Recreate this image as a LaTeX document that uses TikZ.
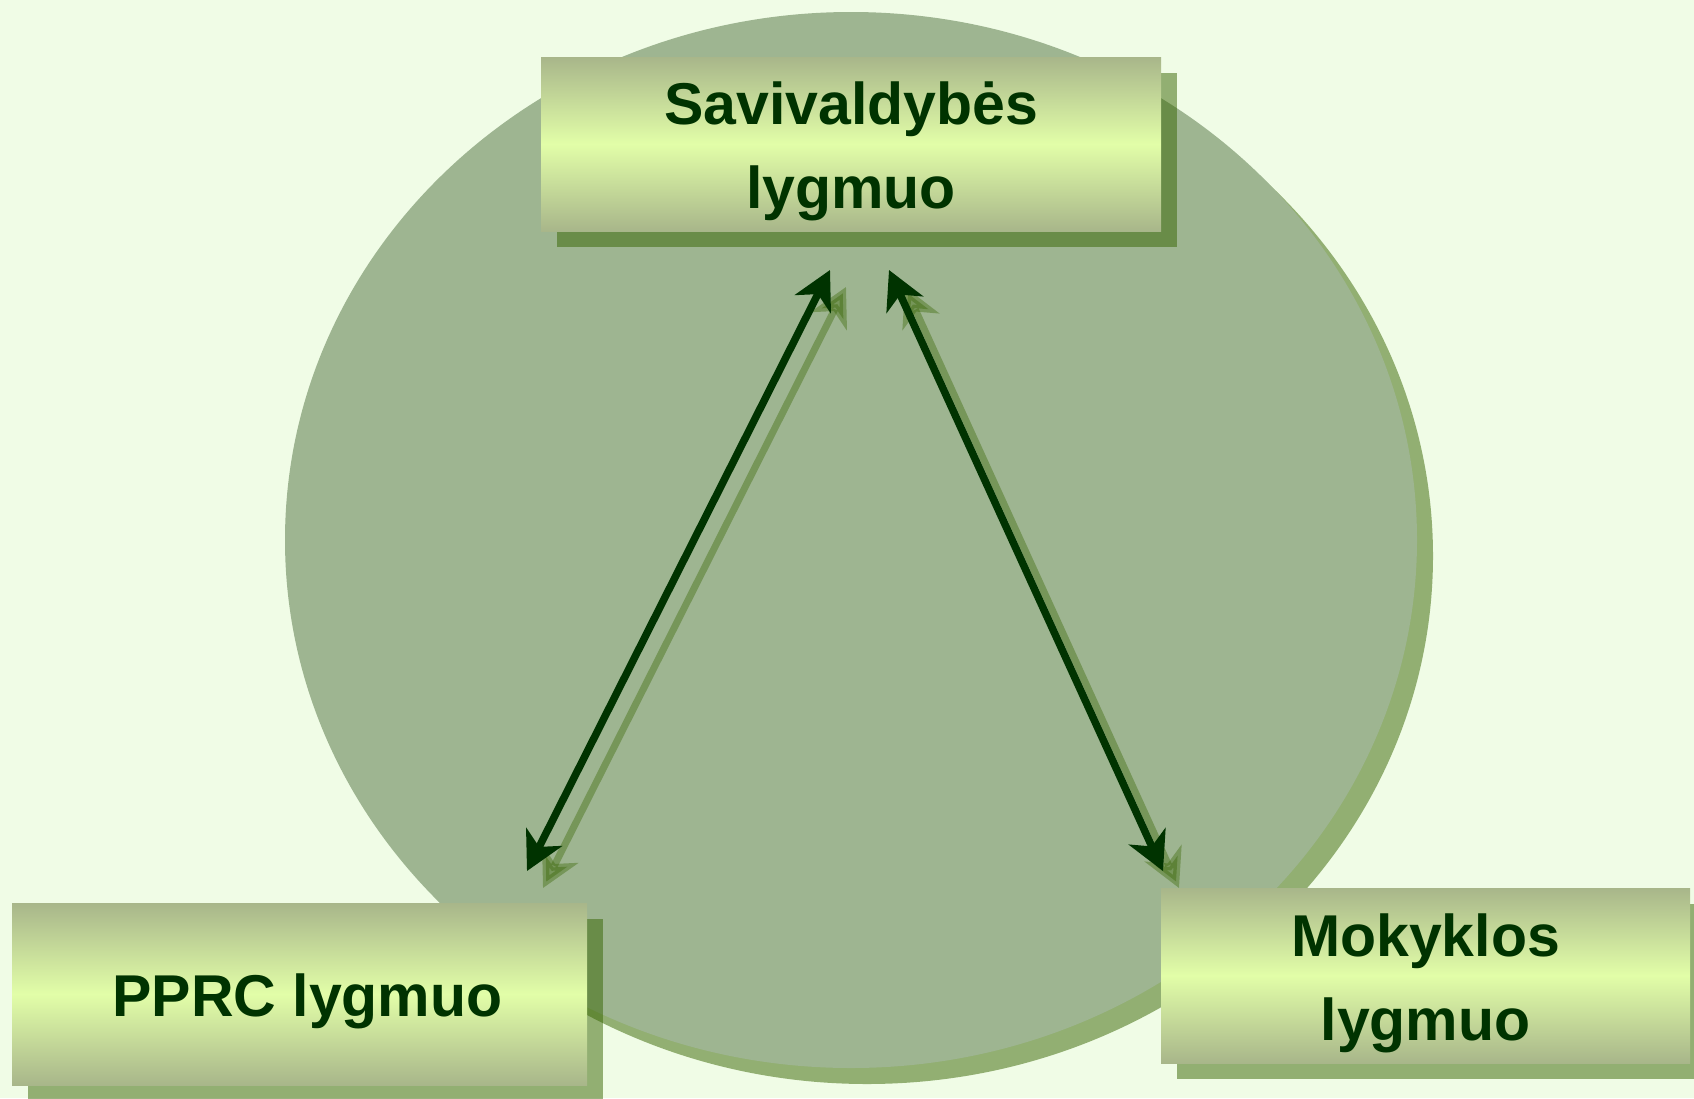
\documentclass[tikz,border=0pt]{standalone}
\usepackage{fontspec}
\setmainfont{Liberation Sans}
\usetikzlibrary{arrows.meta,shadows}
\definecolor{bgc}{RGB}{240,252,230}
\definecolor{circc}{RGB}{158,181,145}
\definecolor{shc}{RGB}{54,100,0}
\definecolor{boxedge}{RGB}{168,182,138}
\definecolor{boxmid}{RGB}{226,254,168}
\definecolor{txtc}{RGB}{0,51,0}
\newcommand\lowertext{\rule{0pt}{58pt}}
\tikzset{
  levelbox/.style={rectangle, inner sep=0pt, top color=boxedge, bottom color=boxedge, middle color=boxmid,
    text=txtc, align=center, font=\fontsize{59}{84}\selectfont\bfseries,
    drop shadow={shadow xshift=16pt, shadow yshift=-16pt, fill=shc, opacity=0.5}},
  arr/.style={draw=txtc, line width=7.5pt, {Stealth[length=38pt,width=40pt,inset=11pt]}-{Stealth[length=38pt,width=40pt,inset=11pt]}},
  arrsh/.style={draw=shc, line width=7pt, {Stealth[length=38pt,width=40pt,inset=11pt]}-{Stealth[length=38pt,width=40pt,inset=11pt]}},
}
\begin{document}
\begin{tikzpicture}[x=1pt,y=-1pt]
\useasboundingbox (0,0) rectangle (1694,1098);
\fill[bgc] (0,0) rectangle (1694,1098);
% circle and its shadow
\fill[shc, opacity=0.5] (867,556) ellipse [x radius=566pt, y radius=528pt];
\fill[circc] (851,540) ellipse [x radius=566pt, y radius=528pt];
% arrow end points
\coordinate (lt) at (830,270);
\coordinate (lb) at (527,871);
\coordinate (rt) at (889,270);
\coordinate (rb) at (1163,871);
% shadow arrows
\draw[arrsh, opacity=0.38] ([shift={(16,17)}]lb) -- ([shift={(16,17)}]lt);
\draw[arrsh, opacity=0.38] ([shift={(16,17)}]rb) -- ([shift={(16,17)}]rt);
% arrows
\draw[arr] (lb) -- (lt);
\draw[arr] (rb) -- (rt);
% boxes
\node[levelbox, minimum width=620pt, minimum height=174pt] (sav) at (851,144) {\lowertext Savivaldybės\\lygmuo};
\node[levelbox, minimum width=575pt, minimum height=182pt] (pprc) at (299.5,994) {\hspace*{16pt}\lowertext PPRC lygmuo};
\node[levelbox, minimum width=529pt, minimum height=175pt] (mok) at (1425.5,975.5) {\lowertext Mokyklos\\lygmuo};
\end{tikzpicture}
\end{document}
